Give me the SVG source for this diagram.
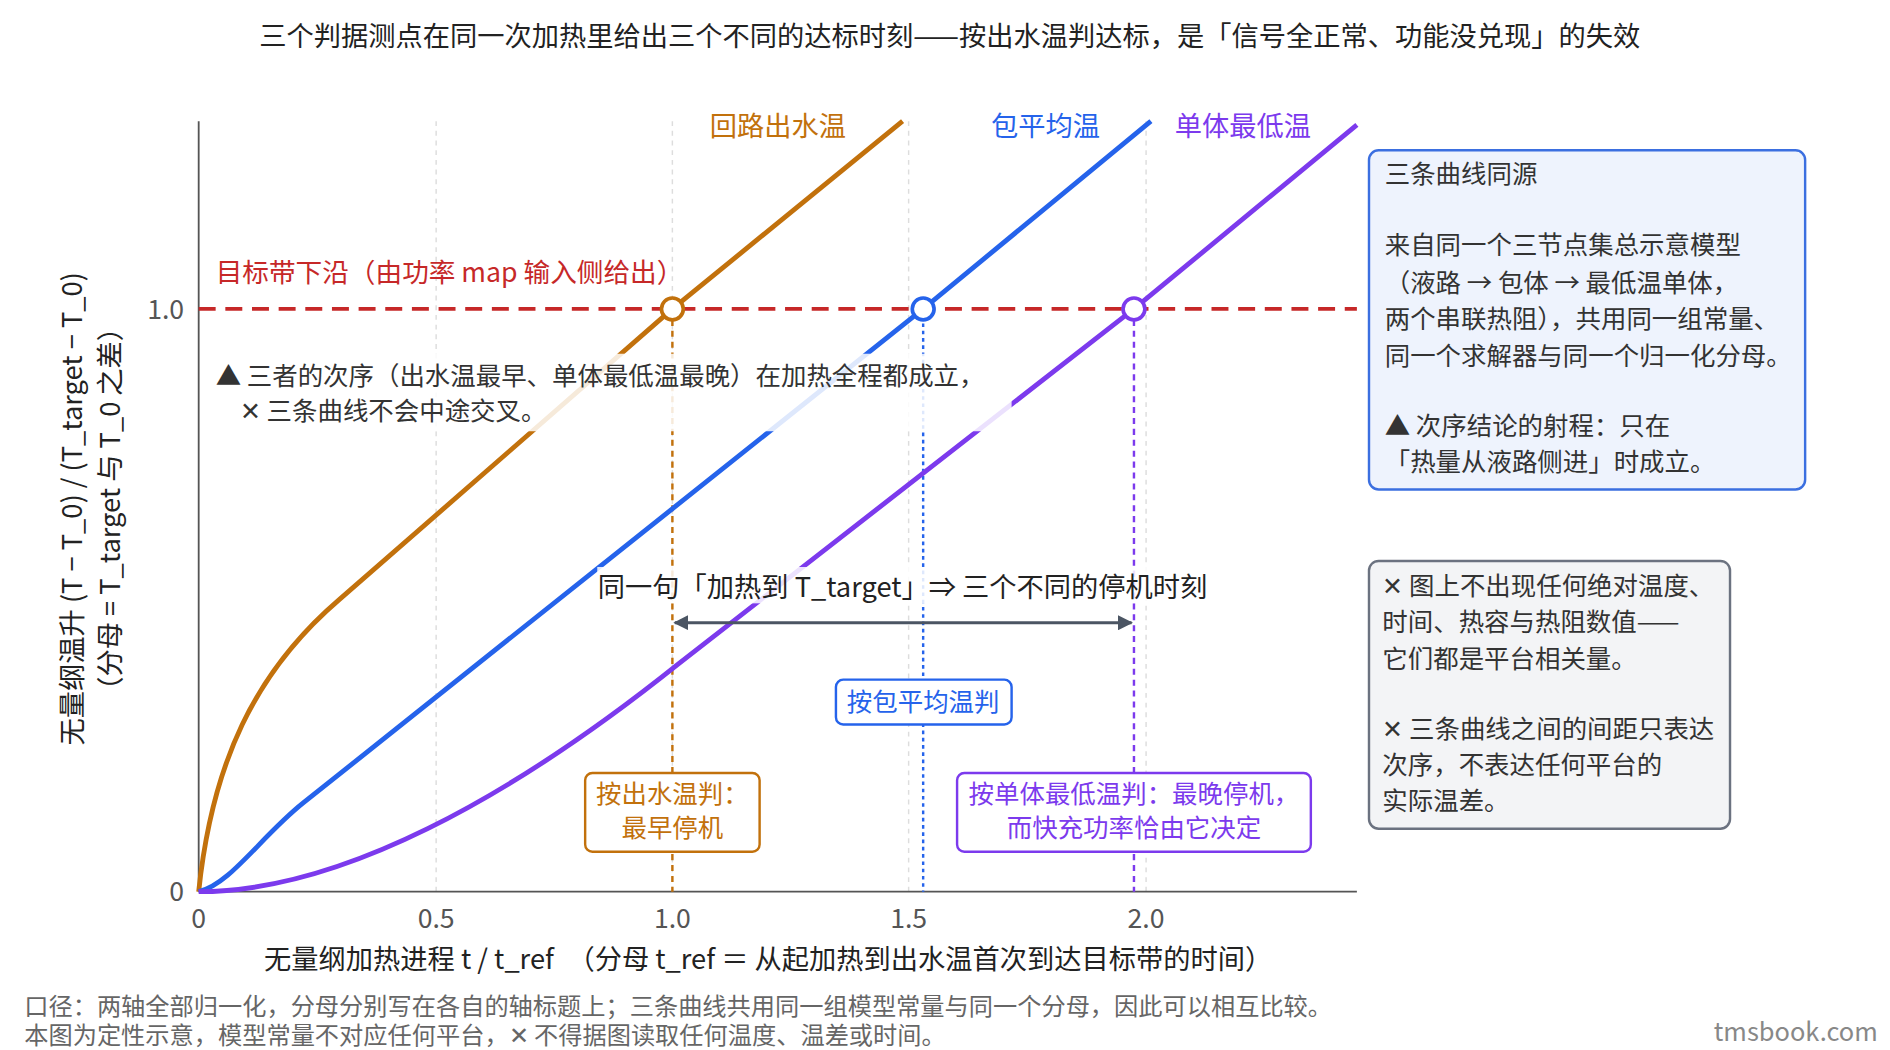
<svg xmlns="http://www.w3.org/2000/svg" width="1890" height="1050" viewBox="0 0 1890 1050">
<style>
text{font-family:"Noto Sans CJK SC","Noto Sans",sans-serif;}
.t{font-size:22.5px;fill:#222}
.s{font-size:21px;fill:#333}
.g{font-size:20px;fill:#666}
.tick{font-size:22px;fill:#555}
.grid{stroke:#ddd;stroke-width:1.2;stroke-dasharray:4 4}
.cur{fill:none;stroke-width:4;stroke-linejoin:round}
</style>
<defs>
<marker id="ah" viewBox="0 0 10 10" refX="9" refY="5" markerWidth="5" markerHeight="5" orient="auto-start-reverse"><path d="M0,0L10,5L0,10z" fill="#4b5563"/></marker>
</defs>
<rect width="1890" height="1050" fill="#fff"/>
<g transform="scale(1.2115)">
<text x="784" y="38" text-anchor="middle" class="t" font-size="24.5">三个判据测点在同一次加热里给出三个不同的达标时刻——按出水温判达标，是「信号全正常、功能没兑现」的失效</text>
<g id="axes">
<line class="grid" x1="360" y1="100" x2="360" y2="736"/>
<line class="grid" x1="555" y1="100" x2="555" y2="736"/>
<line class="grid" x1="750" y1="100" x2="750" y2="736"/>
<line class="grid" x1="946" y1="100" x2="946" y2="736"/>
<line x1="164" y1="100" x2="164" y2="736" stroke="#555" stroke-width="1.5"/>
<line x1="164" y1="736" x2="1120" y2="736" stroke="#555" stroke-width="1.5"/>
<text x="152" y="263" text-anchor="end" class="tick">1.0</text>
<text x="152" y="744" text-anchor="end" class="tick">0</text>
<text x="164" y="766" text-anchor="middle" class="tick">0</text>
<text x="360" y="766" text-anchor="middle" class="tick">0.5</text>
<text x="555" y="766" text-anchor="middle" class="tick">1.0</text>
<text x="750" y="766" text-anchor="middle" class="tick">1.5</text>
<text x="946" y="766" text-anchor="middle" class="tick">2.0</text>
<text transform="translate(68,420) rotate(-90)" text-anchor="middle" class="t">无量纲温升 (T − T_0) / (T_target − T_0)</text>
<text transform="translate(99,420) rotate(-90)" text-anchor="middle" class="t">（分母 = T_target 与 T_0 之差）</text>
<text x="218" y="800" class="t">无量纲加热进程 t / t_ref　（分母 t_ref ＝ 从起加热到出水温首次到达目标带的时间）</text>
</g>
<g id="connectors">
<line x1="555" y1="255" x2="555" y2="736" stroke="#c2710c" stroke-width="2" stroke-dasharray="5 4"/>
<line x1="762" y1="255" x2="762" y2="736" stroke="#2563eb" stroke-width="2" stroke-dasharray="3 3"/>
<line x1="936" y1="255" x2="936" y2="736" stroke="#7c3aed" stroke-width="2" stroke-dasharray="5 4"/>
<path class="cur" stroke="#c2710c" d="M164,736 C175,630 210,555 280,495 L555,255 L745,100"/>
<path class="cur" stroke="#2563eb" d="M164,736 C190,730 215,691 250,663 L762,255 L950,100"/>
<path class="cur" stroke="#7c3aed" d="M164,736 C280,736 420,660 560,548 L936,255 L1120,103"/>
<line x1="164" y1="255" x2="1120" y2="255" stroke="#c62828" stroke-width="3" stroke-dasharray="14 8"/>
<line x1="557" y1="514" x2="934" y2="514" stroke="#4b5563" stroke-width="2.5" marker-start="url(#ah)" marker-end="url(#ah)"/>
</g>
<g id="markers">
<circle cx="555" cy="255" r="9" fill="#fff" stroke="#c2710c" stroke-width="3"/>
<circle cx="762" cy="255" r="9" fill="#fff" stroke="#2563eb" stroke-width="3"/>
<circle cx="936" cy="255" r="9" fill="#fff" stroke="#7c3aed" stroke-width="3"/>
</g>
<g id="labels">
<text x="642" y="112" text-anchor="middle" font-size="22.5" fill="#c2710c">回路出水温</text>
<text x="863" y="112" text-anchor="middle" font-size="22.5" fill="#2563eb">包平均温</text>
<text x="1026" y="112" text-anchor="middle" font-size="22.5" fill="#7c3aed">单体最低温</text>
<text x="178" y="233" font-size="22" fill="#c62828">目标带下沿（由功率 map 输入侧给出）</text>
<rect x="175" y="292" width="660" height="64" rx="4" fill="#fff" fill-opacity="0.85"/>
<text x="178" y="318" class="s">▲ 三者的次序（出水温最早、单体最低温最晚）在加热全程都成立，</text>
<text x="198" y="347" class="s">✕ 三条曲线不会中途交叉。</text>
<rect x="493" y="468" width="504" height="30" fill="#fff" fill-opacity="0.85"/>
<text x="745" y="493" text-anchor="middle" class="t">同一句「加热到 T_target」⇒ 三个不同的停机时刻</text>
</g>
<g id="box-blue">
<rect x="690" y="561" width="145" height="37" rx="6" fill="#fff" stroke="#2563eb" stroke-width="2"/>
<text x="762" y="587" text-anchor="middle" font-size="21" fill="#2563eb">按包平均温判</text>
</g>
<g id="box-orange">
<rect x="483" y="638" width="144" height="65" rx="6" fill="#fff" stroke="#c2710c" stroke-width="2"/>
<text x="555" y="663" text-anchor="middle" font-size="21" fill="#c2710c">按出水温判：</text>
<text x="555" y="691" text-anchor="middle" font-size="21" fill="#c2710c">最早停机</text>
</g>
<g id="box-purple">
<rect x="790" y="638" width="292" height="65" rx="6" fill="#fff" stroke="#7c3aed" stroke-width="2"/>
<text x="936" y="663" text-anchor="middle" font-size="21" fill="#7c3aed">按单体最低温判：最晚停机，</text>
<text x="936" y="691" text-anchor="middle" font-size="21" fill="#7c3aed">而快充功率恰由它决定</text>
</g>
<g id="note-source">
<rect x="1130" y="124" width="360" height="280" rx="8" fill="#eef3fd" stroke="#3b6fe0" stroke-width="2"/>
<text x="1143" y="151" class="s">三条曲线同源</text>
<text x="1143" y="210" class="s">来自同一个三节点集总示意模型</text>
<text x="1143" y="241" class="s">（液路 → 包体 → 最低温单体，</text>
<text x="1143" y="271" class="s">两个串联热阻），共用同一组常量、</text>
<text x="1143" y="301" class="s">同一个求解器与同一个归一化分母。</text>
<text x="1143" y="359" class="s">▲ 次序结论的射程：只在</text>
<text x="1143" y="389" class="s">「热量从液路侧进」时成立。</text>
</g>
<g id="note-warn">
<rect x="1130" y="463" width="298" height="221" rx="8" fill="#f3f4f6" stroke="#6b7280" stroke-width="2"/>
<text x="1141" y="491" class="s">✕ 图上不出现任何绝对温度、</text>
<text x="1141" y="521" class="s">时间、热容与热阻数值——</text>
<text x="1141" y="551" class="s">它们都是平台相关量。</text>
<text x="1141" y="609" class="s">✕ 三条曲线之间的间距只表达</text>
<text x="1141" y="639" class="s">次序，不表达任何平台的</text>
<text x="1141" y="669" class="s">实际温差。</text>
</g>
<text x="20" y="838" class="g">口径：两轴全部归一化，分母分别写在各自的轴标题上；三条曲线共用同一组模型常量与同一个分母，因此可以相互比较。</text>
<text x="20" y="862" class="g">本图为定性示意，模型常量不对应任何平台，✕ 不得据图读取任何温度、温差或时间。</text>
<text x="1550" y="859" text-anchor="end" font-size="21" fill="#888">tmsbook.com</text>
</g>
</svg>
